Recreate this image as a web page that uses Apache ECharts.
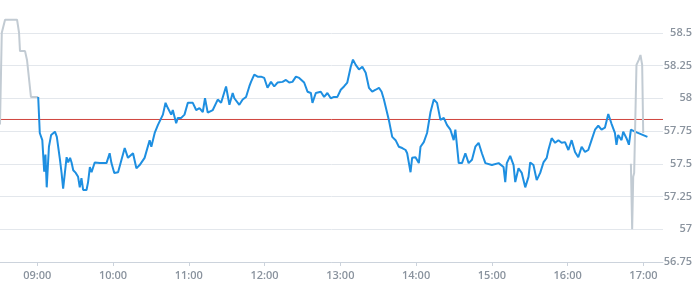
<!DOCTYPE html>
<html>
<head>
<meta charset="utf-8">
<script src="https://cdn.jsdelivr.net/npm/echarts@6/dist/echarts.min.js"></script>
<style>
html,body{margin:0;padding:0;background:#fff;}
#chart{width:695px;height:300px;}
</style>
</head>
<body>
<div id="chart"></div>
<script>
// ---- Data ----
const previousClose = 57.838;

const preTimes = ["08:30:30","08:31:55","08:34:30","08:44:00","08:45:35","08:46:20","08:50:20","08:51:55","08:55:00","08:59:00","09:00:45"];
const prePrices = [57.80,58.50,58.60,58.60,58.50,58.36,58.36,58.29,58.01,58.01,58.01];

const regTimes = [
"09:00:45","09:02:00","09:04:00","09:05:30","09:06:30","09:07:30","09:09:15","09:11:00","09:12:30","09:14:00",
"09:15:30","09:18:00","09:19:15","09:20:30","09:22:00","09:23:15","09:24:30","09:26:00","09:27:10","09:28:30",
"09:30:30","09:32:20","09:33:40","09:35:00","09:36:20","09:39:00","09:40:15","09:41:40","09:43:00","09:45:30",
"09:49:30","09:54:50","09:57:20","09:58:45","10:01:00","10:04:00","10:05:20","10:09:15","10:11:50","10:15:50",
"10:18:30","10:21:05","10:25:00","10:29:00","10:30:20","10:33:00","10:35:30","10:38:15","10:39:30","10:41:35",
"10:43:25","10:46:05","10:47:20","10:50:00","10:51:20","10:54:00","10:56:35","10:59:15","11:03:10","11:05:50",
"11:08:25","11:11:05","11:12:50","11:15:00","11:19:00","11:22:55","11:25:35","11:29:30","11:32:10","11:34:45",
"11:36:05","11:37:25","11:40:00","11:42:40","11:45:20","11:47:55","11:49:15","11:51:50","11:54:30","11:57:10",
"11:59:45","12:02:20","12:05:05","12:07:40","12:10:15","12:14:15","12:16:55","12:19:30","12:22:05","12:24:50",
"12:27:25","12:31:20","12:34:00","12:36:40","12:37:55","12:40:35","12:44:30","12:47:10","12:49:45","12:52:25",
"12:55:00","12:57:40","13:00:20","13:02:55","13:05:30","13:08:15","13:10:00","13:12:10","13:14:45","13:17:25",
"13:20:05","13:22:40","13:25:15","13:28:00","13:30:35","13:32:40","13:34:30","13:38:30","13:41:05","13:43:45",
"13:45:00","13:46:20","13:49:00","13:51:40","13:52:55","13:55:35","13:56:50","13:59:30","14:02:10","14:03:30",
"14:06:05","14:08:40","14:11:25","14:14:00","14:16:35","14:19:15","14:21:55","14:24:30","14:27:10","14:29:45",
"14:31:05","14:33:45","14:36:20","14:39:00","14:41:35","14:44:15","14:46:55","14:49:30","14:52:05","14:54:50",
"15:00:00","15:05:20","15:09:15","15:10:35","15:11:50","15:14:30","15:17:10","15:18:30","15:21:05","15:23:40",
"15:26:25","15:29:00","15:30:20","15:32:55","15:35:30","15:38:15","15:40:50","15:43:25","15:44:45","15:47:20",
"15:50:05","15:52:40","15:55:15","15:57:55","16:00:35","16:03:10","16:05:50","16:08:25","16:11:05","16:13:45",
"16:16:20","16:18:55","16:21:40","16:24:15","16:26:50","16:29:30","16:32:10","16:34:45","16:37:25","16:38:40",
"16:40:00","16:42:40","16:44:00","16:46:35","16:48:30","16:50:05","16:53:15","17:03:10"
];
const regPrices = [
58.01,57.735,57.68,57.44,57.57,57.32,57.63,57.72,57.735,57.745,
57.705,57.53,57.43,57.31,57.30,57.55,57.51,57.545,57.51,57.45,
57.43,57.40,57.32,57.39,57.30,57.30,57.36,57.475,57.435,57.51,
57.505,57.505,57.58,57.505,57.43,57.435,57.45,57.62,57.545,57.58,
57.465,57.49,57.545,57.68,57.63,57.735,57.795,57.85,57.875,57.965,
57.925,57.875,57.91,57.81,57.85,57.85,57.875,57.965,57.965,57.91,
57.925,57.895,58.00,57.89,57.91,57.99,57.965,58.09,57.95,58.04,
58.00,58.01,57.95,57.99,58.01,58.09,58.125,58.18,58.165,58.165,
58.155,58.08,58.125,58.09,58.12,58.125,58.14,58.12,58.125,58.165,
58.155,58.12,58.05,58.04,57.965,58.04,58.05,58.01,58.04,58.00,
58.01,58.01,58.065,58.09,58.12,58.24,58.295,58.255,58.22,58.24,
58.195,58.08,58.05,58.065,58.08,58.05,57.99,57.83,57.705,57.68,
57.695,57.63,57.62,57.605,57.58,57.435,57.545,57.55,57.505,57.63,
57.665,57.735,57.895,57.99,57.965,57.835,57.85,57.795,57.76,57.68,
57.76,57.505,57.505,57.58,57.505,57.53,57.63,57.66,57.58,57.505,
57.49,57.505,57.475,57.36,57.505,57.56,57.49,57.36,57.465,57.43,
57.32,57.40,57.51,57.49,57.375,57.43,57.51,57.545,57.605,57.695,
57.66,57.68,57.66,57.665,57.605,57.68,57.59,57.55,57.63,57.59,
57.605,57.68,57.76,57.79,57.76,57.775,57.88,57.805,57.735,57.645,
57.72,57.68,57.745,57.695,57.645,57.76,57.745,57.705
];

const postTimes = ["16:50:05","16:51:05","16:51:55","16:52:40","16:54:30","16:56:25","16:57:40","16:59:00","16:59:50"];
const postPrices = [57.50,57.00,57.40,57.43,58.255,58.295,58.33,58.255,57.735];

const xTickLabels = ["09:00","10:00","11:00","12:00","13:00","14:00","15:00","16:00","17:00"];
const xStart = "08:30:30";
const xEnd = "17:15:30";

// ---- Helpers ----
function toMin(t){
  const p = t.split(":").map(Number);
  return p[0]*60 + p[1] + (p[2]||0)/60;
}
function pairs(times, prices){
  return times.map((t,i)=>[toMin(t), prices[i]]);
}
function fmt(v){
  const h = Math.floor(v/60), m = Math.round(v - h*60);
  return String(h).padStart(2,"0") + ":" + String(m).padStart(2,"0");
}
const tickVals = xTickLabels.map(toMin);

const chart = echarts.init(document.getElementById('chart'), null, {renderer:'canvas'});
const labelStyle = {color:'#8a939e', fontFamily:'Open Sans', fontSize:11, fontWeight:600};

chart.setOption({
  animation:false,
  backgroundColor:'#ffffff',
  grid:{left:0, right:30, top:0, bottom:38, containLabel:false},
  xAxis:{
    type:'value',
    min:toMin(xStart), max:toMin(xEnd),
    axisLine:{show:true, lineStyle:{color:'#ccd3dc', width:1}},
    axisTick:{show:true, length:4, customValues:tickVals, lineStyle:{color:'#ccd3dc'}},
    axisLabel:Object.assign({customValues:tickVals, formatter:fmt, margin:8}, labelStyle),
    splitLine:{show:false}
  },
  yAxis:{
    type:'value', position:'right',
    min:56.75, max:58.75, interval:0.25,
    axisLine:{show:false}, axisTick:{show:false},
    axisLabel:Object.assign({align:'right', margin:29, showMaxLabel:false, formatter:v=>String(+v.toFixed(2))}, labelStyle),
    splitLine:{show:true, showMaxLine:false, lineStyle:{color:'#e3e7ec', width:1}}
  },
  series:[
    {type:'line', data:[[toMin(xStart), previousClose],[toMin(xEnd), previousClose]],
     showSymbol:false, symbol:'none', silent:true,
     lineStyle:{color:'#d0443e', width:1}, z:1},
    {type:'line', data:pairs(preTimes, prePrices), showSymbol:false, symbol:'none',
     lineStyle:{color:'#c2cbd3', width:2}, z:2},
    {type:'line', data:pairs(regTimes, regPrices), showSymbol:false, symbol:'none',
     lineStyle:{color:'#1e8fe1', width:2}, z:3},
    {type:'line', data:pairs(postTimes, postPrices), showSymbol:false, symbol:'none',
     lineStyle:{color:'#c2cbd3', width:2}, z:4}
  ]
});
</script>
</body>
</html>
